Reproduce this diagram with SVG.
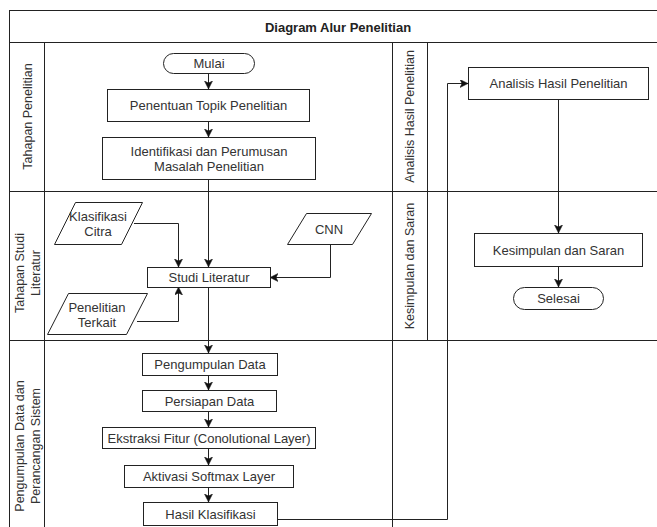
<svg xmlns="http://www.w3.org/2000/svg" width="657" height="527" viewBox="0 0 657 527">
<defs>
<style>
.lane{fill:none;stroke:#222;stroke-width:1}
.node{fill:#fff;stroke:#222;stroke-width:1}
.t{font-family:"Liberation Sans",Arial,sans-serif;font-size:13px;fill:#333;text-anchor:middle;dominant-baseline:central}
.lt{font-family:"Liberation Sans",Arial,sans-serif;font-size:12.5px;fill:#333;text-anchor:middle;dominant-baseline:central}
.title{font-family:"Liberation Sans",Arial,sans-serif;font-size:13px;font-weight:bold;fill:#222;text-anchor:middle;dominant-baseline:central}
.c{fill:none;stroke:#222;stroke-width:1}
</style>
<marker id="arr" markerWidth="10" markerHeight="10" refX="8" refY="4" orient="auto" markerUnits="userSpaceOnUse">
<path d="M0,0 L8,4 L0,8 L2,4 z" fill="#111" stroke="#111" stroke-width="0.5"/>
</marker>
</defs>
<rect width="657" height="527" fill="#fff"/>
<g id="pool">
<rect class="lane" x="9.5" y="10.5" width="660" height="560"/>
<line class="lane" x1="9" y1="42.5" x2="670" y2="42.5"/>
<line class="lane" x1="44.5" y1="42" x2="44.5" y2="570"/>
<line class="lane" x1="392.5" y1="42" x2="392.5" y2="570"/>
<line class="lane" x1="427.5" y1="42" x2="427.5" y2="340.5"/>
<line class="lane" x1="9" y1="191.5" x2="670" y2="191.5"/>
<line class="lane" x1="9" y1="340.5" x2="670" y2="340.5"/>
<text class="title" x="338" y="27">Diagram Alur Penelitian</text>
</g>
<g id="lane-labels">
<text class="lt" transform="translate(27.5,116.5) rotate(-90)">Tahapan Penelitian</text>
<text class="lt" transform="translate(28,273) rotate(-90)"><tspan x="0" dy="-8">Tahapan Studi</tspan><tspan x="0" dy="16">Literatur</tspan></text>
<text class="lt" transform="translate(28,446) rotate(-90)"><tspan x="0" dy="-8">Pengumpulan Data dan</tspan><tspan x="0" dy="16">Perancangan Sistem</tspan></text>
<text class="lt" transform="translate(410,116.5) rotate(-90)">Analisis Hasil Penelitian</text>
<text class="lt" transform="translate(410,266) rotate(-90)">Kesimpulan dan Saran</text>
</g>
<g id="connectors">
<polyline class="c" points="208.5,73 208.5,89" marker-end="url(#arr)"/>
<polyline class="c" points="208.5,121 208.5,137" marker-end="url(#arr)"/>
<polyline class="c" points="208.5,179 208.5,267" marker-end="url(#arr)"/>
<polyline class="c" points="134,223.5 178.5,223.5 178.5,267" marker-end="url(#arr)"/>
<polyline class="c" points="330.5,244 330.5,277.5 270,277.5" marker-end="url(#arr)"/>
<polyline class="c" points="137,321.5 178.5,321.5 178.5,287" marker-end="url(#arr)"/>
<polyline class="c" points="208.5,287 208.5,353" marker-end="url(#arr)"/>
<polyline class="c" points="208.5,376 208.5,390" marker-end="url(#arr)"/>
<polyline class="c" points="208.5,411 208.5,427" marker-end="url(#arr)"/>
<polyline class="c" points="208.5,448 208.5,465" marker-end="url(#arr)"/>
<polyline class="c" points="208.5,487 208.5,502" marker-end="url(#arr)"/>
<polyline class="c" points="277,519.5 447.5,519.5 447.5,83.5 468,83.5" marker-end="url(#arr)"/>
<polyline class="c" points="558.5,99 558.5,233" marker-end="url(#arr)"/>
<polyline class="c" points="558.5,266 558.5,287" marker-end="url(#arr)"/>
</g>
<g id="mulai">
<rect class="node" x="163.5" y="53.5" width="91" height="20" rx="10"/>
<text class="t" x="209" y="63.5">Mulai</text>
</g>
<g id="penentuan">
<rect class="node" x="107.5" y="89.5" width="202" height="32"/>
<text class="t" x="208.5" y="105.5">Penentuan Topik Penelitian</text>
</g>
<g id="identifikasi">
<rect class="node" x="102.5" y="137.5" width="213" height="42"/>
<text class="t" x="209" y="151">Identifikasi dan Perumusan</text>
<text class="t" x="209" y="166">Masalah Penelitian</text>
</g>
<g id="klasifikasi-citra">
<polygon class="node" points="75.5,202.5 142.5,202.5 121.5,244.5 54.5,244.5"/>
<text class="t" x="98" y="216.5">Klasifikasi</text>
<text class="t" x="98" y="231">Citra</text>
</g>
<g id="cnn">
<polygon class="node" points="306.5,213.5 371.5,213.5 352.5,244.5 287.5,244.5"/>
<text class="t" x="329" y="229">CNN</text>
</g>
<g id="studi-literatur">
<rect class="node" x="147.5" y="267.5" width="123" height="20"/>
<text class="t" x="209" y="277.5">Studi Literatur</text>
</g>
<g id="penelitian-terkait">
<polygon class="node" points="68.5,293.5 147.5,293.5 126.5,334.5 47.5,334.5"/>
<text class="t" x="97" y="307">Penelitian</text>
<text class="t" x="97" y="322">Terkait</text>
</g>
<g id="pengumpulan-data">
<rect class="node" x="142.5" y="353.5" width="135" height="22"/>
<text class="t" x="210" y="364.5">Pengumpulan Data</text>
</g>
<g id="persiapan-data">
<rect class="node" x="142.5" y="390.5" width="134" height="21"/>
<text class="t" x="209.5" y="401">Persiapan Data</text>
</g>
<g id="ekstraksi-fitur">
<rect class="node" x="102.5" y="427.5" width="213" height="21"/>
<text class="t" x="209" y="438">Ekstraksi Fitur (Conolutional Layer)</text>
</g>
<g id="aktivasi-softmax">
<rect class="node" x="124.5" y="465.5" width="169" height="22"/>
<text class="t" x="209" y="476.5">Aktivasi Softmax Layer</text>
</g>
<g id="hasil-klasifikasi">
<rect class="node" x="143.5" y="502.5" width="134" height="23"/>
<text class="t" x="210.5" y="514">Hasil Klasifikasi</text>
</g>
<g id="analisis-hasil">
<rect class="node" x="468.5" y="67.5" width="180" height="32"/>
<text class="t" x="558.5" y="83.5">Analisis Hasil Penelitian</text>
</g>
<g id="kesimpulan">
<rect class="node" x="474.5" y="233.5" width="168" height="33"/>
<text class="t" x="558.5" y="250">Kesimpulan dan Saran</text>
</g>
<g id="selesai">
<rect class="node" x="513.5" y="287.5" width="90" height="22" rx="11"/>
<text class="t" x="558.5" y="298.5">Selesai</text>
</g>
</svg>
